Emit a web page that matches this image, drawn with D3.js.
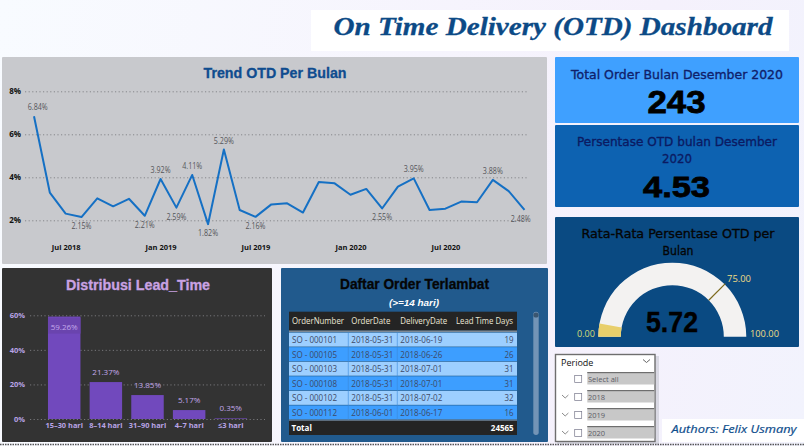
<!DOCTYPE html>
<html>
<head>
<meta charset="utf-8">
<script src="https://cdn.jsdelivr.net/npm/d3@7"></script>
<style>
html, body { margin: 0; padding: 0; width: 804px; height: 446px; overflow: hidden;
  background: linear-gradient(100deg, #f8fbff 0%, #f5f1fc 75%, #f2f3fd 100%); }
svg { display: block; font-family: "Liberation Sans", sans-serif; }
</style>
</head>
<body>
<svg id="chart" width="804" height="446"></svg>
<script>
const months = ["2018-05","2018-06","2018-07","2018-08","2018-09","2018-10","2018-11","2018-12",
  "2019-01","2019-02","2019-03","2019-04","2019-05","2019-06","2019-07","2019-08","2019-09","2019-10","2019-11","2019-12",
  "2020-01","2020-02","2020-03","2020-04","2020-05","2020-06","2020-07","2020-08","2020-09","2020-10","2020-11","2020-12"]
const otd = [6.84,3.29,2.31,2.15,3.02,2.65,3.0,2.21,
  3.92,2.59,4.11,1.82,5.29,2.48,2.16,2.74,2.79,2.36,3.78,3.72,
  3.19,3.46,2.55,3.57,3.95,2.48,2.54,2.87,2.84,3.88,3.36,2.48]
const labelsAbove = ["2018-05","2019-01","2019-03","2019-05","2020-05","2020-10"]
const labelsBelow = ["2018-08","2018-12","2019-02","2019-04","2019-07","2020-03","2020-12"]
const monthTicks = ["2018-07","2019-01","2019-07","2020-01","2020-07"]
const monthTickLabels = ["Jul 2018","Jan 2019","Jul 2019","Jan 2020","Jul 2020"]
const otdTicks = [2,4,6,8]

const leadCats = ["15–30 hari","8–14 hari","31–90 hari","4–7 hari","≤3 hari"]
const leadVals = [59.26,21.37,13.85,5.17,0.35]
const leadTicks = [0,20,40,60]

const tableHead = ["OrderNumber","OrderDate","DeliveryDate","Lead Time Days"]
const orderNos = ["SO - 000101","SO - 000105","SO - 000103","SO - 000108","SO - 000102","SO - 000112"]
const orderDates = ["2018-05-31","2018-05-31","2018-05-31","2018-05-31","2018-05-31","2018-06-01"]
const deliveryDates = ["2018-06-19","2018-06-26","2018-07-01","2018-07-01","2018-07-02","2018-06-17"]
const leadDays = [19,26,31,31,32,16]
const leadTotal = 24565

const gaugeValue = 5.72
const gaugeTarget = 75
const gaugeMax = 100
const slicerItems = ["Select all","2018","2019","2020"]

const svg = d3.select("#chart")

// panel backgrounds
function panel(x, y, w, h, fill, r = 1) {
  return svg.append("rect").attr("x", x).attr("y", y).attr("width", w).attr("height", h).attr("rx", r).attr("fill", fill)
}
// text squeezed to the width it has in the picture
function label(x, y, str, size, fill, len, opts = {}) {
  const t = svg.append("text").attr("x", x).attr("y", y).attr("font-size", size).attr("fill", fill)
    .attr("text-anchor", opts.anchor || "middle").attr("font-family", opts.family || null)
    .attr("font-weight", opts.weight || null).attr("font-style", opts.style || null).text(str)
  if (len) t.attr("textLength", len).attr("lengthAdjust", "spacingAndGlyphs")
  if (opts.stroke) t.attr("stroke", opts.stroke).attr("stroke-width", opts.sw || 0.5)
  return t
}

// header
panel(311, 10, 478, 41, "#ffffff", 0)
label(553, 35, "On Time Delivery (OTD) Dashboard", 26, "#0c4a86", 439, { family: "Liberation Serif", weight: "bold", style: "italic", stroke: "#0c4a86", sw: 0.3 })

// trend panel
panel(2, 57, 545, 207, "#c8c9cd")
label(275, 78, "Trend OTD Per Bulan", 14, "#0f4c8f", 143, { weight: "bold", stroke: "#0f4c8f", sw: 0.3 })

const xLine = d3.scalePoint().domain(months).range([34, 524.5])
const yLine = d3.scaleLinear().domain([2, 8]).range([220.3, 91.3])

const yAxisLine = svg.append("g").attr("transform", "translate(25,0)")
  .call(d3.axisLeft(yLine).tickValues(otdTicks).tickFormat(d => d + "%").tickSize(-504).tickPadding(4))
yAxisLine.select(".domain").remove()
yAxisLine.selectAll("line").attr("stroke", "#85868a").attr("stroke-dasharray", "1.2,2.4")
yAxisLine.selectAll("text").attr("font-size", 8).attr("font-weight", "bold").attr("fill", "#111").attr("font-family", "Open Sans")

const xAxisLine = svg.append("g").attr("transform", "translate(0,242)")
  .call(d3.axisBottom(xLine).tickValues(monthTicks).tickFormat((d, i) => monthTickLabels[i]).tickSize(0).tickPadding(3))
xAxisLine.select(".domain").remove()
xAxisLine.selectAll("text").attr("font-size", 7.5).attr("font-weight", "bold").attr("fill", "#111").attr("font-family", "Open Sans")

const line = d3.line().x((d, i) => xLine(months[i])).y(d => yLine(d))
svg.append("path").datum(otd).attr("d", line).attr("fill", "none").attr("stroke", "#1570c4").attr("stroke-width", 2).attr("stroke-linejoin", "round")

const pointLabels = [...labelsAbove.map(m => [m, -6]), ...labelsBelow.map(m => [m, 12])]
svg.append("g").selectAll("text").data(pointLabels).join("text")
  .attr("x", d => Math.max(37.7, Math.min(xLine(d[0]), 520.7)))
  .attr("y", d => yLine(otd[months.indexOf(d[0])]) + d[1])
  .attr("text-anchor", "middle").attr("font-size", 8.5).attr("fill", "#55565a").attr("font-family", "Open Sans")
  .attr("textLength", 20).attr("lengthAdjust", "spacingAndGlyphs")
  .text(d => otd[months.indexOf(d[0])].toFixed(2) + "%")

// lead time panel
panel(2, 268, 270, 174, "#333333")
label(138, 290, "Distribusi Lead_Time", 14, "#c9a2e3", 144, { weight: "bold", stroke: "#c9a2e3", sw: 0.3 })

const xBar = d3.scaleBand().domain(leadCats).range([43.4, 251.6]).paddingInner(0.22).paddingOuter(0.11)
const yBar = d3.scaleLinear().domain([0, 60]).range([419, 315.3])

const yAxisBar = svg.append("g").attr("transform", "translate(30,0)")
  .call(d3.axisLeft(yBar).tickValues(leadTicks).tickFormat(d => d + "%").tickSize(-235).tickPadding(5))
yAxisBar.select(".domain").remove()
yAxisBar.selectAll("line").attr("stroke", "#77777a").attr("stroke-dasharray", "1.2,2.4")
yAxisBar.selectAll("text").attr("font-size", 7.5).attr("font-weight", "bold").attr("fill", "#b9a4e6").attr("font-family", "Open Sans")

svg.append("g").selectAll("rect").data(leadVals).join("rect")
  .attr("x", (d, i) => xBar(leadCats[i])).attr("width", xBar.bandwidth())
  .attr("y", d => yBar(d)).attr("height", d => yBar(0) - yBar(d)).attr("fill", "#7149bd")

const xAxisBar = svg.append("g").attr("transform", "translate(0,419)")
  .call(d3.axisBottom(xBar).tickSize(0).tickPadding(4))
xAxisBar.select(".domain").remove()
xAxisBar.selectAll("text").attr("font-size", 7.4).attr("font-weight", "bold").attr("fill", "#b9a4e6").attr("font-family", "Open Sans")

// the tallest bar keeps its label inside, on a darker strip
svg.append("rect").attr("x", xBar(leadCats[0])).attr("width", xBar.bandwidth())
  .attr("y", yBar(leadVals[0]) + 1).attr("height", 16).attr("fill", "#6a44ae")
svg.append("g").selectAll("text").data(leadVals).join("text")
  .attr("x", (d, i) => xBar(leadCats[i]) + xBar.bandwidth() / 2)
  .attr("y", (d, i) => i === 0 ? yBar(d) + 13 : yBar(d) - 7)
  .attr("text-anchor", "middle").attr("font-size", 8).attr("fill", "#c3a8ea").attr("font-family", "Open Sans")
  .text(d => d.toFixed(2) + "%")

// order table panel
panel(281, 268, 267, 174, "#215a8d")
label(414.5, 289, "Daftar Order Terlambat", 14, "#050505", 149, { weight: "bold", stroke: "#050505", sw: 0.3 })
label(414, 305.5, "(>=14 hari)", 9, "#ffffff", 50, { weight: "bold", style: "italic" })

const colX = [289, 348.3, 397.3, 452]
const colR = 517
const rowIdx = d3.range(orderNos.length)
const yRow = d3.scaleBand().domain(rowIdx).range([332.6, 420])
const headWidths = [52, 39, 47, 57]

panel(289, 311.7, 228, 19, "#242424", 0)
svg.append("rect").attr("x", 289).attr("y", 330.5).attr("width", 228).attr("height", 1.5).attr("fill", "#7f8a96")
svg.append("g").selectAll("text").data(tableHead).join("text")
  .attr("x", (d, i) => i === 3 ? colR - 4 : colX[i] + 3).attr("y", 323.5)
  .attr("text-anchor", (d, i) => i === 3 ? "end" : "start")
  .attr("font-size", 8.5).attr("fill", "#ece8d6").attr("font-family", "Open Sans")
  .attr("textLength", (d, i) => headWidths[i]).attr("lengthAdjust", "spacingAndGlyphs").text(d => d)

const rows = svg.append("g").selectAll("g").data(rowIdx).join("g")
  .attr("transform", d => `translate(0,${yRow(d)})`)
rows.append("rect").attr("x", 289).attr("width", 228).attr("height", yRow.bandwidth() - 0.6)
  .attr("fill", d => d % 2 ? "#3d9eff" : "#9dcfff")
const cellFn = [i => orderNos[i], i => orderDates[i], i => deliveryDates[i], i => leadDays[i]]
const cellWidths = [45, 42, 42, 9]
cellFn.forEach((fn, c) => {
  rows.append("text").attr("y", 10.5)
    .attr("x", c === 3 ? colR - 3.5 : colX[c] + 3)
    .attr("text-anchor", c === 3 ? "end" : "start")
    .attr("font-size", 8.5).attr("fill", "#3d4a68").attr("font-family", "Open Sans")
    .attr("textLength", cellWidths[c]).attr("lengthAdjust", "spacingAndGlyphs")
    .text(d => fn(d))
})
svg.append("g").selectAll("line").data([348.3, 397.3]).join("line")
  .attr("x1", d => d).attr("x2", d => d).attr("y1", 332.6).attr("y2", 420)
  .attr("stroke", "#3a8ad8").attr("stroke-opacity", 0.6)

svg.append("rect").attr("x", 289).attr("y", 419.6).attr("width", 228).attr("height", 1.2).attr("fill", "#7f8a96")
panel(289, 420.8, 228, 14.2, "#242424", 0)
label(291.5, 431, "Total", 8, "#ffffff", null, { anchor: "start", weight: "bold", family: "Open Sans" })
label(513.7, 431, leadTotal, 8, "#ffffff", null, { anchor: "end", weight: "bold", family: "Open Sans" })

// scrollbar
panel(533.3, 311.7, 5.4, 123.3, "#7394b6", 2.7)
svg.append("circle").attr("cx", 536).attr("cy", 315).attr("r", 2.6).attr("fill", "#3b5670")

// KPI cards
panel(555, 57, 244, 66, "#3fa0ff")
label(677, 79, "Total Order Bulan Desember 2020", 13, "#10206a", 212, { family: "DejaVu Sans", stroke: "#10206a", sw: 0.35 })
label(676.5, 113, "243", 31, "#000000", 58, { weight: "bold", stroke: "#000", sw: 0.8 })

panel(555, 125, 244, 82, "#0d62b1")
label(677, 145.7, "Persentase OTD bulan Desember", 13, "#0b1a62", 200, { family: "DejaVu Sans", stroke: "#0b1a62", sw: 0.35 })
label(677, 163.3, "2020", 12, "#0b1a62", 30, { family: "DejaVu Sans", stroke: "#0b1a62", sw: 0.3 })
label(676.5, 196.6, "4.53", 30, "#000000", 67, { weight: "bold", stroke: "#000", sw: 0.8 })

// gauge
panel(555, 217, 244, 130, "#0a4a82")
label(678, 238, "Rata-Rata Persentase OTD per", 13, "#050505", 193, { family: "DejaVu Sans", stroke: "#050505", sw: 0.35 })
label(678, 255.3, "Bulan", 13, "#050505", 31, { family: "DejaVu Sans", stroke: "#050505", sw: 0.35 })

const cx = 672.3, cy = 336.7, rOut = 74, rIn = 51.5
const aScale = d3.scaleLinear().domain([0, gaugeMax]).range([-Math.PI / 2, Math.PI / 2])
const arc = d3.arc().innerRadius(rIn).outerRadius(rOut)
const gauge = svg.append("g").attr("transform", `translate(${cx},${cy})`)
gauge.append("path").attr("fill", "#f3f2f1").attr("d", arc({ startAngle: aScale(0), endAngle: aScale(gaugeMax) }))
gauge.append("path").attr("fill", "#e8cf6b").attr("d", arc({ startAngle: aScale(0), endAngle: aScale(gaugeValue) }))
const ta = aScale(gaugeTarget)
gauge.append("line").attr("stroke", "#7d6a1e").attr("stroke-width", 1.2)
  .attr("x1", Math.sin(ta) * rIn).attr("y1", -Math.cos(ta) * rIn)
  .attr("x2", Math.sin(ta) * (rOut + 1)).attr("y2", -Math.cos(ta) * (rOut + 1))

label(672, 332, gaugeValue.toFixed(2), 29, "#000000", 52, { weight: "bold", stroke: "#000", sw: 0.4 })
label(586, 337, "0.00", 9, "#d4dc78", 18, { family: "Open Sans" })
label(764.5, 337, "100.00", 9, "#f0dc84", 29, { family: "Open Sans" })
label(739, 281.5, gaugeTarget.toFixed(2), 9, "#f0dc84", 24, { family: "Open Sans" })

// slicer
svg.append("rect").attr("x", 557).attr("y", 356).attr("width", 102).attr("height", 88).attr("fill", "#b9bbc6").attr("opacity", 0.45)
svg.append("rect").attr("x", 555.5).attr("y", 354.5).attr("width", 99.5).attr("height", 87).attr("fill", "#ffffff").attr("stroke", "#6e6e6e").attr("stroke-width", 1.4)
label(561, 366, "Periode", 9, "#111111", null, { anchor: "start", family: "Open Sans" })
svg.append("path").attr("d", "M643,359.5l3.5,3l3.5,-3").attr("fill", "none").attr("stroke", "#666")

const ySlicer = d3.scaleBand().domain(slicerItems).range([372, 444])
const items = svg.append("g").selectAll("g").data(slicerItems).join("g")
  .attr("transform", d => `translate(0,${ySlicer(d)})`)
items.append("rect").attr("x", 587.3).attr("y", 0).attr("width", 67).attr("height", 12.5).attr("fill", "#c8c8c8")
items.append("rect").attr("x", 587.3).attr("y", 0).attr("width", 67).attr("height", 1.2).attr("fill", "#6e6e6e")
items.append("rect").attr("x", 574.7).attr("y", 3.5).attr("width", 7).attr("height", 7).attr("fill", "#fff").attr("stroke", "#77778a").attr("stroke-width", 0.7)
items.filter((d, i) => i > 0).append("path").attr("d", "M562,5l3.2,3l3.2,-3").attr("fill", "none").attr("stroke", "#8a8a8a")
items.append("text").attr("x", 588).attr("y", 9.8).attr("font-size", 7.5).attr("fill", "#5c5c66").attr("font-family", "Open Sans").text(d => d)

// author note
panel(662, 419, 142, 23, "#ffffff", 0)
label(734, 432.7, "Authors: Felix Usmany", 11, "#0e4d8c", 125, { family: "Open Sans", style: "italic", stroke: "#0e4d8c", sw: 0.2 })

// dotted strip along the bottom
svg.append("line").attr("x1", 0).attr("x2", 804).attr("y1", 444.5).attr("y2", 444.5)
  .attr("stroke", "#555").attr("stroke-width", 1.5).attr("stroke-dasharray", "1.5,1")
</script>
</body>
</html>
